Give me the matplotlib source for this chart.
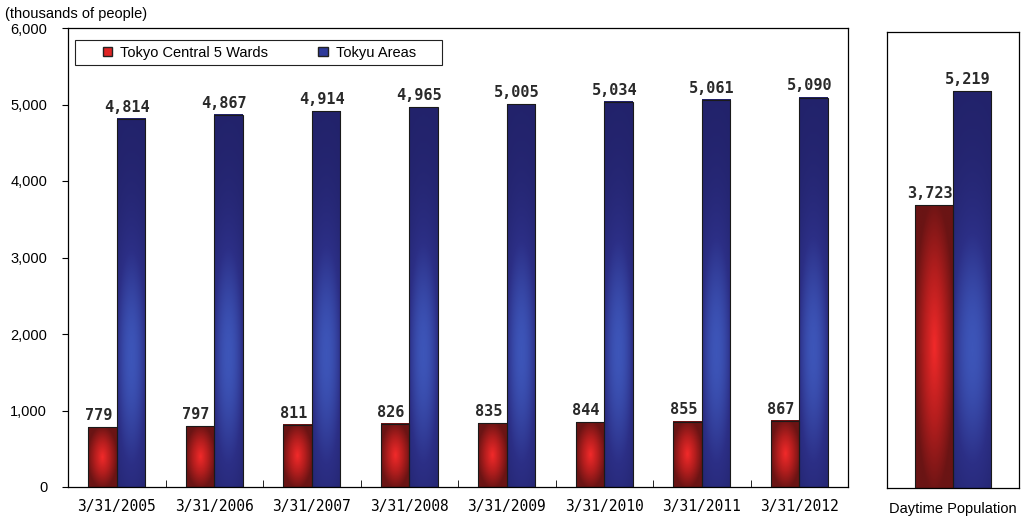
import matplotlib.pyplot as plt
import numpy as np
from matplotlib.colors import LinearSegmentedColormap
from matplotlib.patches import Patch, Rectangle

# data (thousands of people)
dates = ['3/31/2005', '3/31/2006', '3/31/2007', '3/31/2008',
         '3/31/2009', '3/31/2010', '3/31/2011', '3/31/2012']
central5 = [779, 797, 811, 826, 835, 844, 855, 867]
tokyu = [4814, 4867, 4914, 4965, 5005, 5034, 5061, 5090]
day_label = 'Daytime Population'
day_central5 = 3723
day_tokyu = 5219

red_cmap = LinearSegmentedColormap.from_list('r', ['#6a1414', '#b51e1e', '#f22a2a'])
blue_cmap = LinearSegmentedColormap.from_list('b', ['#22226a', '#2c2f86', '#3d55b8'])

MONO = 'DejaVu Sans Mono'
SANS = 'Liberation Sans'


def red_grad():
    u = np.linspace(-1, 1, 40)[None, :]
    v = np.linspace(-1, 1, 80)[:, None]
    g = 1 - np.clip(np.sqrt(u ** 2 * 0.9 + v ** 2 * 0.9), 0, 1)
    return g


def blue_grad():
    u = np.linspace(-1, 1, 40)[None, :]
    v = np.linspace(0, 1, 200)[:, None]  # 0 bottom, 1 top (origin lower)
    vert = np.exp(-((v - 0.35) / 0.35) ** 2)
    horiz = 1 - 0.5 * u ** 2
    return vert * horiz


def shaded_bars(ax, x, h, w, cmap, grad):
    bars = ax.bar(x, h, w, facecolor='none', edgecolor='#1a1a1a', linewidth=0.8, zorder=3)
    for b in bars:
        x0 = b.get_x()
        ax.imshow(grad, cmap=cmap, vmin=0, vmax=1, origin='lower', aspect='auto',
                  extent=[x0, x0 + b.get_width(), 0, b.get_height()], zorder=2,
                  interpolation='bilinear')
    return bars


def labels(ax, bars):
    for b in bars:
        ax.annotate(f'{int(b.get_height()):,}',
                    (b.get_x() + b.get_width() / 2, b.get_height()),
                    xytext=(-3, 3), textcoords='offset points',
                    ha='center', va='bottom',
                    fontsize=11, fontweight='bold', family=MONO, color='#2a2a2a')


fig = plt.figure(figsize=(10.34, 5.18), dpi=100)
ax = fig.add_axes([68 / 1034, 31 / 518, 780 / 1034, 459 / 518])
ax2 = fig.add_axes([887 / 1034, 30 / 518, 132 / 1034, 456 / 518])

w = 0.29
x = np.arange(len(dates))
b1 = shaded_bars(ax, x - w / 2, central5, w, red_cmap, red_grad())
b2 = shaded_bars(ax, x + w / 2, tokyu, w, blue_cmap, blue_grad())
labels(ax, b1)
labels(ax, b2)

ax.set_xlim(-0.5, len(dates) - 0.5)
ax.set_ylim(0, 6000)
ax.set_yticks(np.arange(0, 6001, 1000))
ax.set_yticklabels([f'{v:,}' for v in range(0, 6001, 1000)], family=SANS, fontsize=10.5)
ax.set_xticks(x)
ax.set_xticklabels(dates, family=MONO, fontsize=10.5)
ax.tick_params(axis='x', length=0, pad=9)
ax.set_xticks(x[:-1] + 0.5, minor=True)
ax.tick_params(axis='x', which='minor', direction='in', length=5)
ax.tick_params(axis='y', direction='out', length=4, pad=11)
for s in ax.spines.values():
    s.set_linewidth(0.9)

# legend box
ax.add_patch(Rectangle((7 / 780, 0.919), 367 / 780, 0.055, transform=ax.transAxes,
                       facecolor='white', edgecolor='#222222', linewidth=0.8, zorder=4))
handles = [Patch(facecolor='#e02424', edgecolor='#222222', label='Tokyo Central 5 Wards'),
           Patch(facecolor='#2e3a9a', edgecolor='#222222', label='Tokyu Areas')]
leg = ax.legend(handles=handles, ncol=2, loc='center left',
                bbox_to_anchor=(35 / 780, (487 - 52.5) / 459), frameon=False,
                borderpad=0, borderaxespad=0, columnspacing=3.4,
                handlelength=0.65, handleheight=0.65, handletextpad=0.55,
                prop={'family': SANS, 'size': 10.5})
leg.set_zorder(5)

fig.text(5 / 1034, 1 - 14 / 518, '(thousands of people)', family=SANS, fontsize=10.5,
         va='center', ha='left')

# right panel
w2 = 0.29
d1 = shaded_bars(ax2, [-w2 / 2], [day_central5], w2, red_cmap, red_grad())
d2 = shaded_bars(ax2, [w2 / 2], [day_tokyu], w2, blue_cmap, blue_grad())
labels(ax2, d1)
labels(ax2, d2)
ax2.set_xlim(-0.5, 0.5)
ax2.set_ylim(0, 6000)
ax2.set_yticks([])
ax2.set_xticks([0])
ax2.set_xticklabels([day_label], family=SANS, fontsize=10.5)
ax2.tick_params(axis='x', length=0, pad=10)
for s in ax2.spines.values():
    s.set_linewidth(0.9)

fig.savefig('out.png', dpi=100)
